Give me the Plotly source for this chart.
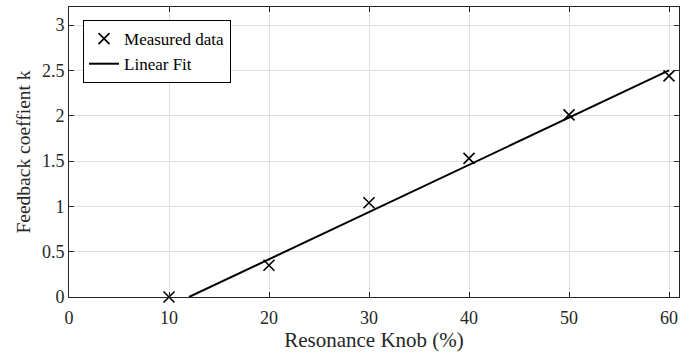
import plotly.graph_objects as go

knob = [10, 20, 30, 40, 50, 60]
k_measured = [0.0, 0.35, 1.04, 1.53, 2.01, 2.44]
fit_x = [12, 60]
fit_y = [0.0, 2.5]
x_ticks = [0, 10, 20, 30, 40, 50, 60]
y_ticks = [0, 0.5, 1, 1.5, 2, 2.5, 3]
y_tick_labels = ["0", "0.5", "1", "1.5", "2", "2.5", "3"]

font = "Liberation Serif"

fig = go.Figure()
fig.add_trace(go.Scatter(
    x=knob, y=k_measured, mode="markers", name="Measured data",
    marker=dict(symbol="x-thin", size=11, line=dict(width=1.6, color="black"), color="black"),
    cliponaxis=False,
))
fig.add_trace(go.Scatter(
    x=fit_x, y=fit_y, mode="lines", name="Linear Fit",
    line=dict(color="black", width=2),
))

axis_common = dict(
    showline=True, linecolor="#262626", linewidth=1, mirror="ticks",
    ticks="inside", ticklen=5, tickcolor="#262626",
    showgrid=True, gridcolor="#dfdfdf", gridwidth=1, zeroline=False,
    tickfont=dict(family=font, size=18, color="#262626"),
)

fig.update_layout(
    width=697, height=358,
    margin=dict(l=69, r=18, t=7, b=61),
    plot_bgcolor="white", paper_bgcolor="white",
    font=dict(family=font, color="#262626"),
    xaxis=dict(range=[0, 61], tickvals=x_ticks, ticklabelstandoff=4,
               title=dict(text="Resonance Knob (%)", font=dict(family=font, size=21), standoff=0),
               **axis_common),
    yaxis=dict(range=[0, 3.2], tickvals=y_ticks, ticktext=y_tick_labels,
               title=dict(text="Feedback coeffient k", font=dict(family=font, size=19.5), standoff=6),
               **axis_common),
    legend=dict(x=0.023, y=0.955, xanchor="left", yanchor="top",
                bgcolor="white", bordercolor="black", borderwidth=1,
                font=dict(family=font, size=17, color="black"),
                tracegroupgap=0, itemwidth=30),
    showlegend=True,
)

fig.write_html("out.html")
